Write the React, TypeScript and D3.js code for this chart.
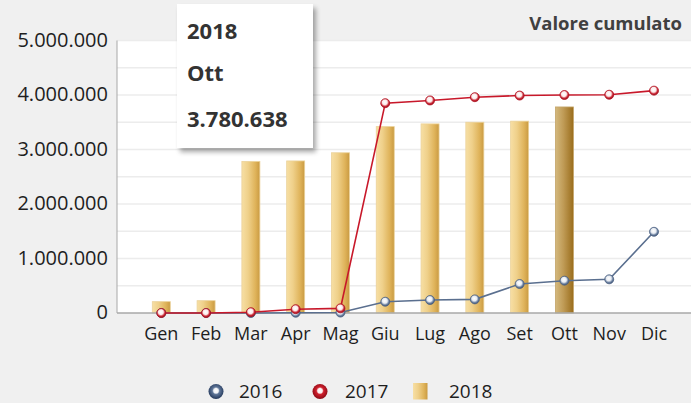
import React from "react";
import * as d3 from "d3";

const months = ["Gen", "Feb", "Mar", "Apr", "Mag", "Giu", "Lug", "Ago", "Set", "Ott", "Nov", "Dic"];
const values2016 = [0, 0, 0, 5000, 8000, 207000, 238000, 250000, 532000, 593000, 618000, 1490000];
const values2017 = [0, 0, 15000, 70000, 85000, 3850000, 3900000, 3960000, 3990000, 4000000, 4005000, 4080000];
const values2018 = [208000, 226000, 2780000, 2790000, 2940000, 3420000, 3470000, 3500000, 3520000, 3780638];
const yTicks = [0, 1000000, 2000000, 3000000, 4000000, 5000000];
const seriesNames = ["2016", "2017", "2018"];
const highlighted = "Ott";

const W = 691;
const H = 403;
const FONT = "'Open Sans', sans-serif";

const fmt = (v: number) => d3.format(",")(v).replace(/,/g, ".");

export default function App() {
  const left = 117;
  const right = 691;
  const top = 40.5;
  const bottom = 313;
  const y = d3.scaleLinear().domain([0, 5000000]).range([bottom, top]);
  const x = d3.scalePoint<string>().domain(months).range([161.3, 654]);
  const barW = 18;
  const grid = d3.range(500000, 5000001, 500000);
  const line = d3
    .line<number>()
    .x((_, i) => x(months[i]) as number)
    .y((d) => y(d));

  const ottVal = values2018[months.indexOf(highlighted)];

  return (
    <svg width={W} height={H} style={{ position: "absolute", left: 0, top: 0 }} fontFamily={FONT}>
      <defs>
        <linearGradient id="bar" x1="0" x2="1" y1="0" y2="0">
          <stop offset="0%" stopColor="#f7dfa4" />
          <stop offset="35%" stopColor="#efd08a" />
          <stop offset="75%" stopColor="#dfb35a" />
          <stop offset="100%" stopColor="#c99a42" />
        </linearGradient>
        <linearGradient id="barHi" x1="0" x2="1" y1="0" y2="0">
          <stop offset="0%" stopColor="#d4b97e" />
          <stop offset="45%" stopColor="#bf9a55" />
          <stop offset="100%" stopColor="#9a6d1c" />
        </linearGradient>
        <radialGradient id="mBlue" cx="45%" cy="40%" r="60%">
          <stop offset="0%" stopColor="#ffffff" />
          <stop offset="45%" stopColor="#e8ecf2" />
          <stop offset="75%" stopColor="#6f84a3" />
          <stop offset="100%" stopColor="#3d5275" />
        </radialGradient>
        <radialGradient id="mRed" cx="45%" cy="40%" r="60%">
          <stop offset="0%" stopColor="#ffffff" />
          <stop offset="45%" stopColor="#fbeaea" />
          <stop offset="75%" stopColor="#cc2a38" />
          <stop offset="100%" stopColor="#98101c" />
        </radialGradient>
        <radialGradient id="lBlue" cx="50%" cy="45%" r="55%">
          <stop offset="0%" stopColor="#ffffff" />
          <stop offset="28%" stopColor="#f0f2f6" />
          <stop offset="45%" stopColor="#5f7698" />
          <stop offset="100%" stopColor="#22375a" />
        </radialGradient>
        <radialGradient id="lRed" cx="50%" cy="45%" r="55%">
          <stop offset="0%" stopColor="#ffffff" />
          <stop offset="28%" stopColor="#fbeeee" />
          <stop offset="45%" stopColor="#d0202e" />
          <stop offset="100%" stopColor="#8a0a14" />
        </radialGradient>
        <filter id="shadow" x="-10%" y="-10%" width="130%" height="130%">
          <feGaussianBlur in="SourceAlpha" stdDeviation="2.5" />
          <feOffset dx="3" dy="4" result="b" />
          <feComponentTransfer>
            <feFuncA type="linear" slope="0.35" />
          </feComponentTransfer>
          <feMerge>
            <feMergeNode />
            <feMergeNode in="SourceGraphic" />
          </feMerge>
        </filter>
      </defs>

      <rect x={0} y={0} width={W} height={H} fill="#f0f0f0" />
      <rect x={left} y={top} width={right - left} height={bottom - top} fill="#ffffff" />

      {grid.map((g) => (
        <line key={g} x1={left} x2={right} y1={y(g)} y2={y(g)} stroke="#ececec" strokeWidth={1.5} />
      ))}

      {/* y axis */}
      <line x1={left} x2={left} y1={top} y2={bottom} stroke="#a8a8a8" strokeWidth={1} />
      {yTicks.map((t) => (
        <text key={t} x={108} y={y(t) + 6} textAnchor="end" fontSize={20} fill="#1e1e1e">
          {fmt(t)}
        </text>
      ))}

      {/* bars */}
      {values2018.map((v, i) => {
        const m = months[i];
        const cx = x(m) as number;
        const hi = m === highlighted;
        return (
          <rect
            key={m}
            x={cx - barW / 2}
            y={y(v)}
            width={barW}
            height={bottom - y(v)}
            fill={hi ? "url(#barHi)" : "url(#bar)"}
            stroke={hi ? "#c4a56a" : "#ebd29a"}
            strokeWidth={0.8}
          />
        );
      })}

      {/* x axis */}
      <line x1={left} x2={right} y1={bottom} y2={bottom} stroke="#a8a8a8" strokeWidth={1.5} />
      {months.map((m) => (
        <text key={m} x={x(m) as number} y={340} textAnchor="middle" fontSize={18} fill="#1e1e1e">
          {m}
        </text>
      ))}

      {/* 2016 line */}
      <path d={line(values2016) as string} fill="none" stroke="#5a6f8f" strokeWidth={1.6} />
      {values2016.map((v, i) => (
        <circle key={"b" + i} cx={x(months[i]) as number} cy={y(v)} r={4.5} fill="url(#mBlue)" stroke="#4d6283" strokeWidth={0.8} />
      ))}

      {/* 2017 line */}
      <path d={line(values2017) as string} fill="none" stroke="#c8182a" strokeWidth={1.6} />
      {values2017.map((v, i) => (
        <circle key={"r" + i} cx={x(months[i]) as number} cy={y(v)} r={4.5} fill="url(#mRed)" stroke="#b01020" strokeWidth={0.8} />
      ))}

      {/* title */}
      <text x={682} y={30} textAnchor="end" fontSize={18.5} fontWeight="bold" fill="#404040">
        Valore cumulato
      </text>

      {/* tooltip */}
      <rect x={177} y={4} width={136} height={144} fill="#ffffff" filter="url(#shadow)" />
      <text x={187} y={39} fontSize={22} fontWeight="bold" fill="#333">
        {seriesNames[2]}
      </text>
      <text x={187} y={81} fontSize={22} fontWeight="bold" fill="#333">
        {highlighted}
      </text>
      <text x={187} y={127} fontSize={22} fontWeight="bold" fill="#333">
        {fmt(ottVal)}
      </text>

      {/* legend */}
      <circle cx={216} cy={391.5} r={7.5} fill="url(#lBlue)" />
      <text x={239} y={398} fontSize={19} fill="#1e1e1e">{seriesNames[0]}</text>
      <circle cx={320} cy={391.5} r={7.5} fill="url(#lRed)" />
      <text x={345} y={398} fontSize={19} fill="#1e1e1e">{seriesNames[1]}</text>
      <rect x={413} y={383} width={14.5} height={16.5} fill="url(#bar)" />
      <text x={449} y={398} fontSize={19} fill="#1e1e1e">{seriesNames[2]}</text>
    </svg>
  );
}
